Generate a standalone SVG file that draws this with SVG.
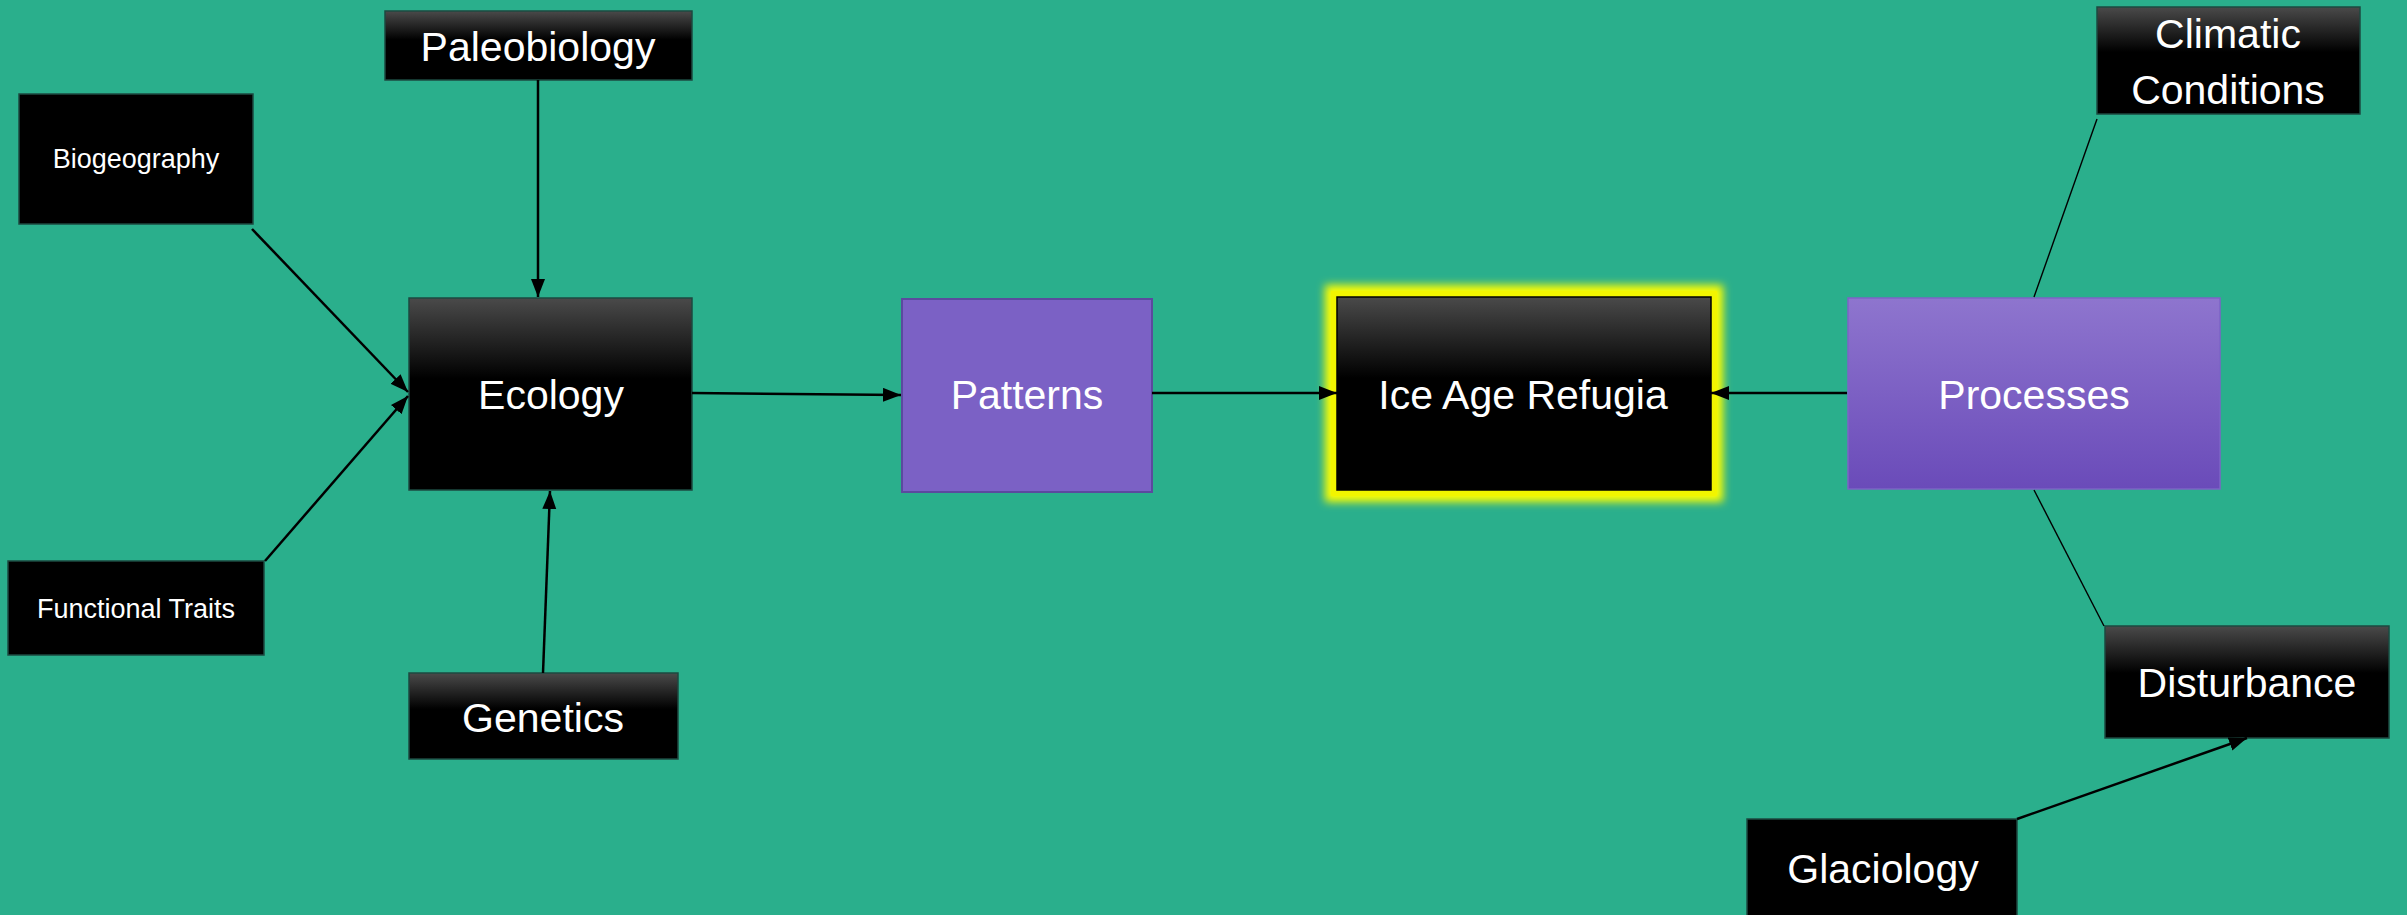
<svg xmlns="http://www.w3.org/2000/svg" width="2407" height="915" viewBox="0 0 2407 915">
<style>
.lbl{font-family:"Liberation Sans",Arial,sans-serif;fill:#fff;text-anchor:middle;font-size:41px}
.sm{font-size:27px}
.box{stroke:#1d4a40;stroke-width:1.5}
.con{stroke:#000;stroke-width:2.5;fill:none}
.thin{stroke:#000;stroke-width:1.4;fill:none}
</style>
<defs>
<linearGradient id="gBlack" x1="0" y1="0" x2="0" y2="1">
<stop offset="0" stop-color="#4a4a4a"/>
<stop offset="0.42" stop-color="#000"/>
<stop offset="1" stop-color="#000"/>
</linearGradient>
<linearGradient id="gProc" x1="0" y1="0" x2="0" y2="1">
<stop offset="0" stop-color="#8E75CE"/>
<stop offset="1" stop-color="#6A4BB9"/>
</linearGradient>
<filter id="glow" x="-20%" y="-20%" width="140%" height="140%">
<feGaussianBlur stdDeviation="4"/>
</filter>
<marker id="arr" markerUnits="userSpaceOnUse" markerWidth="20" markerHeight="16" refX="18" refY="7" orient="auto">
<path d="M0,0 L18,7 L0,14 Z" fill="#000"/>
</marker>
</defs>
<rect width="2407" height="915" fill="#2AAF8C"/>

<g id="paleobiology">
<rect class="box" x="385" y="11" width="307" height="69" fill="url(#gBlack)"/>
<text class="lbl" x="538" y="61">Paleobiology</text>
</g>
<g id="biogeography">
<rect class="box" x="19" y="94" width="234" height="130" fill="#000"/>
<text class="lbl sm" x="136" y="168">Biogeography</text>
</g>
<g id="ecology">
<rect class="box" x="409" y="298" width="283" height="192" fill="url(#gBlack)"/>
<text class="lbl" x="551" y="409">Ecology</text>
</g>
<g id="functional-traits">
<rect class="box" x="8" y="561" width="256" height="94" fill="#000"/>
<text class="lbl sm" x="136" y="618">Functional Traits</text>
</g>
<g id="genetics">
<rect class="box" x="409" y="673" width="269" height="86" fill="url(#gBlack)"/>
<text class="lbl" x="543" y="732">Genetics</text>
</g>
<g id="patterns">
<rect x="902" y="299" width="250" height="193" fill="#7B61C5" stroke="#5B4A9E" stroke-width="2"/>
<text class="lbl" x="1027" y="409">Patterns</text>
</g>
<g id="ice-age-refugia">
<rect x="1337" y="297" width="374" height="193" fill="none" stroke="#FFFF00" stroke-width="24" filter="url(#glow)"/>
<rect x="1337" y="297" width="374" height="193" fill="none" stroke="#F2F500" stroke-width="12"/>
<rect x="1337" y="297" width="374" height="193" fill="url(#gBlack)" stroke="#000" stroke-width="1.5"/>
<text class="lbl" x="1523" y="409">Ice Age Refugia</text>
</g>
<g id="processes">
<rect x="1848" y="298" width="372" height="191" fill="url(#gProc)" stroke="#7d63c6" stroke-width="1.5"/>
<text class="lbl" x="2034" y="409">Processes</text>
</g>
<g id="climatic-conditions">
<rect class="box" x="2097" y="7" width="263" height="107" fill="url(#gBlack)"/>
<text class="lbl" x="2228" y="48">Climatic</text>
<text class="lbl" x="2228" y="104">Conditions</text>
</g>
<g id="disturbance">
<rect class="box" x="2105" y="626" width="284" height="112" fill="url(#gBlack)"/>
<text class="lbl" x="2247" y="697">Disturbance</text>
</g>
<g id="glaciology">
<rect class="box" x="1747" y="819" width="270" height="100" fill="#000"/>
<text class="lbl" x="1883" y="883">Glaciology</text>
</g>

<g id="connectors">
<line class="con" x1="538" y1="80" x2="538" y2="297" marker-end="url(#arr)"/>
<line class="con" x1="252" y1="229" x2="408" y2="392" marker-end="url(#arr)"/>
<line class="con" x1="265" y1="561" x2="408" y2="396" marker-end="url(#arr)"/>
<line class="con" x1="543" y1="673" x2="550" y2="491" marker-end="url(#arr)"/>
<line class="con" x1="692" y1="393" x2="901" y2="395" marker-end="url(#arr)"/>
<line class="con" x1="1152" y1="393" x2="1337" y2="393" marker-end="url(#arr)"/>
<line class="con" x1="1847" y1="393" x2="1711" y2="393" marker-end="url(#arr)"/>
<line class="thin" x1="2097" y1="119" x2="2034" y2="297"/>
<line class="thin" x1="2034" y1="490" x2="2104" y2="626"/>
<line class="con" x1="2017" y1="819" x2="2247" y2="738" marker-end="url(#arr)"/>
</g>
</svg>
